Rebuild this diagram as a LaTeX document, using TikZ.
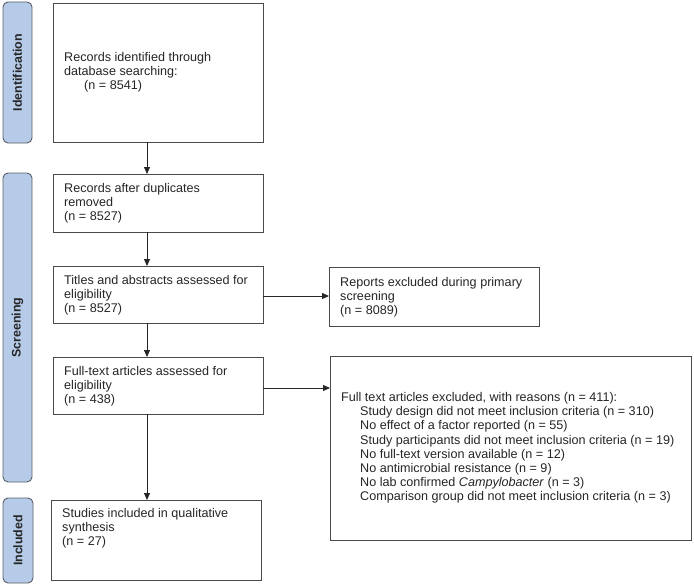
\documentclass[tikz,border=0pt]{standalone}
\usepackage{fontspec}
\setmainfont{Liberation Sans}
\usetikzlibrary{arrows.meta}
\definecolor{barfill}{HTML}{B5CBE8}
\definecolor{barline}{HTML}{5A5F66}
\definecolor{boxline}{HTML}{4A4A4A}
\tikzset{
  flowbox/.style={draw=boxline, line width=0.9pt, fill=white},
  phasebar/.style={draw=barline, line width=0.9pt, fill=barfill, rounded corners=5pt},
  phaselabel/.style={rotate=90, font=\fontsize{12.4}{14}\selectfont\bfseries, text=black!85},
  boxtext/.style={font=\fontsize{12.6}{14.2}\selectfont, align=left, inner sep=0pt, text=black!85},
  flowarrow/.style={draw=black!85, line width=0.8pt, -{Triangle[length=7pt,width=6pt]}}
}
\begin{document}
\begin{tikzpicture}[x=1pt,y=-1pt]
\useasboundingbox (0,0) rectangle (694,586);
% phase bars
\draw[phasebar] (3,2) rectangle (32,143);
\node[phaselabel] (lid) at (17.5,72.5) {Identification};
\draw[phasebar] (3,173) rectangle (32,482);
\node[phaselabel] (lsc) at (17.5,327.5) {Screening};
\draw[phasebar] (3,498) rectangle (33,583);
\node[phaselabel] (lin) at (18,540.5) {Included};
% boxes
\draw[flowbox] (53,3) rectangle (263,142);
\coordinate (b1s) at (147,142);
\node[boxtext, anchor=west] (t1) at (64,72.5) {Records identified through\\database searching:\\\hspace*{20pt}(n = 8541)};
\draw[flowbox] (53,174) rectangle (263,232);
\coordinate (b2n) at (147,174);
\coordinate (b2s) at (147,232);
\node[boxtext, anchor=west] (t2) at (64,203) {Records after duplicates\\removed\\(n = 8527)};
\draw[flowbox] (53,266) rectangle (263,323);
\coordinate (b3n) at (147,266);
\coordinate (b3s) at (147,323);
\coordinate (b3e) at (263,296);
\node[boxtext, anchor=west] (t3) at (64,295) {Titles and abstracts assessed for\\eligibility\\(n = 8527)};
\draw[flowbox] (53,357) rectangle (263,414);
\coordinate (b4n) at (147,357);
\coordinate (b4s) at (147,414);
\coordinate (b4e) at (263,388);
\node[boxtext, anchor=west] (t4) at (64,386) {Full-text articles assessed for\\eligibility\\(n = 438)};
\draw[flowbox] (51,500) rectangle (261,580);
\coordinate (b5n) at (147,500);
\node[boxtext, anchor=north west] (t5) at (62,508) {Studies included in qualitative\\synthesis\\(n = 27)};
\draw[flowbox] (329,267) rectangle (539,326);
\coordinate (baw) at (329,296);
\node[boxtext, anchor=west] (ta) at (340,297) {Reports excluded during primary\\screening\\(n = 8089)};
\draw[flowbox] (330,356) rectangle (691,540);
\coordinate (bbw) at (330,388);
\node[boxtext, anchor=west] (tb) at (341,448) {Full text articles excluded, with reasons (n = 411):\\
\hspace*{19pt}Study design did not meet inclusion criteria (n = 310)\\
\hspace*{19pt}No effect of a factor reported (n = 55)\\
\hspace*{19pt}Study participants did not meet inclusion criteria (n = 19)\\
\hspace*{19pt}No full-text version available (n = 12)\\
\hspace*{19pt}No antimicrobial resistance (n = 9)\\
\hspace*{19pt}No lab confirmed \textit{Campylobacter} (n = 3)\\
\hspace*{19pt}Comparison group did not meet inclusion criteria (n = 3)};
% arrows
\draw[flowarrow] (b1s) -- (b2n);
\draw[flowarrow] (b2s) -- (b3n);
\draw[flowarrow] (b3s) -- (b4n);
\draw[flowarrow] (b4s) -- (b5n);
\draw[flowarrow] (b3e) -- (baw);
\draw[flowarrow] (b4e) -- (bbw);
\end{tikzpicture}
\end{document}
